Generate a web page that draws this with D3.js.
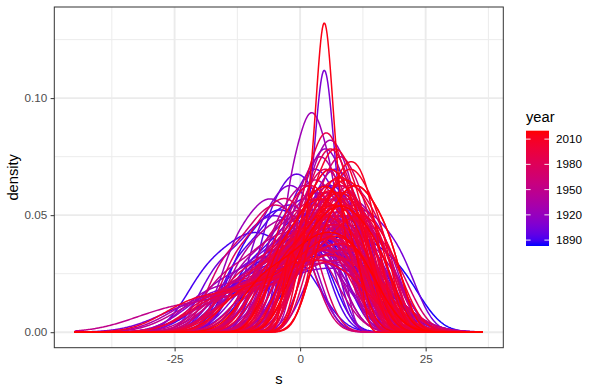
<!DOCTYPE html>
<html>
<head>
<meta charset="utf-8">
<script src="https://cdn.jsdelivr.net/npm/d3@7"></script>
<style>
  body { margin: 0; background: #fff; }
  text { font-family: "Liberation Sans", Arial, Helvetica, sans-serif; }
</style>
</head>
<body>
<div id="chart"></div>
<script>
// one group of observations per year, density drawn like geom_density
const years = d3.range(1883, 2021);
const samples = [
  // 1883-1892
  [-8.2,-1.8,3,7.8,14.2], [-0.5,5.5,10,14.5,20.5], [-12,-5,-0.1,4.1,9], [-12.4,-7.6,-4,-0.4,4.4], [-12,-3,3.3,8.7,15],
  [-16,-5.5,1.5,6.4,11.3], [-4,2,6.2,9.8,14], [-19.4,-13.4,-9,-4.6,1.4], [-11,-5,-0.8,2.8,7], [-2,2,5,8,12],
  // 1893-1902
  [-16,-4,4,9.6,15.2], [-13,-7.5,-3.65,-0.35,3.5], [-2.1,3.1,7,10.9,16.1], [-13,-5,0.6,5.4,11], [-6.7,-2.3,1,4.3,8.7],
  [-7.1,-3.5,-0.7,2.1,5.7], [-4,2.5,7,11,15.5], [-14,-5,1,5.2,9.4], [-1,3,6,9,13], [-17,-11,-6.8,-3.2,1],
  // 1903-1912
  [-3.3,0.3,3,5.7,9.3], [-9,-1,4.6,9.4,15], [3.6,8.4,12,15.6,20.4], [-14,-7,-2.1,2.1,7], [-21,-7.5,1.5,7.8,14.1],
  [-4,0.5,3,4.2,4.8,5.4,6.6,9,13], [-10,-2.5,2.75,7.25,12.5], [-9,-5,-2,1,5], [-2,4,8.2,11.8,16], [-5.8,-0.2,4,8.2,13.8],
  // 1913-1922
  [-18,-7.5,-0.5,4.4,9.3], [0.7,4.3,7,9.7,13.3], [-11,-4.5,0.05,3.95,8.5], [0.6,5.4,9,12.6,17.4], [-17,-9,-3.4,1.4,7],
  [-0.6,2.6,5,7.4,10.6], [-6,0,4.2,7.8,12], [-12,-1.5,5.5,10.4,15.3], [-7.1,-1.9,2,5.9,11.1], [-2,3,6.5,9.5,13],
  // 1923-1932
  [-13.7,-9.3,-6,-2.7,1.7], [-14,-5,1.3,6.7,13], [-2.4,0.3,2.3,4.3,7], [-7,0,4.9,9.1,14], [2.3,6.7,10,13.3,17.7],
  [-18.5,-8.75,-2.25,2.3,6.85], [-5,0,3.5,6.5,10], [-5.4,-0.6,3,6.6,11.4], [-2,4.5,9,13,17.5], [0.7,3.7,6,8.3,11.3],
  // 1933-1942
  [-12,-6,-1.8,1.8,6], [-1.8,3.8,8,12.2,17.8], [-20,-8,0,5.6,11.2], [-7,-2,1.5,4.5,8], [-1.7,2.7,6,9.3,13.7],
  [-5,2,6.9,11.1,16], [-12.1,-6.9,-3,0.9,6.1], [-12,-3.5,2.45,7.55,13.5], [-1.9,1.5,4,6.5,9.9], [-11,-2,4,8.2,12.4],
  // 1943-1952
  [-13,-5.5,-0.25,4.25,9.5], [1,5,8,11,15], [-7,-0.5,4.05,7.95,12.5], [-6,-2,1,4,8], [-19,-7,1,6.6,12.2],
  [-1,4.5,8.35,11.65,15.5], [-5.1,0.1,4,7.9,13.1], [-29,-22,-15,-9,-4,0,3,5,7,9,11], [-3,2,5.5,8.5,12], [-3.7,0.1,3,5.9,9.7],
  // 1953-1962
  [-16,-9,-4.1,0.1,5], [0.6,5.4,9,12.6,17.4], [-15,-4.5,2.5,7.4,12.3], [-8,-2,2.2,5.8,10], [-0.3,3.3,6,8.7,12.3],
  [-8,0,5.6,10.4,16], [-8.4,-3.6,0,3.6,8.4], [-1,5,9.2,12.8,17], [-4.1,1.1,5,8.9,14.1], [-15,-6,0,4.2,8.4],
  // 1963-1972
  [-5,0.5,4.35,7.65,11.5], [2.1,5.5,8,10.5,13.9], [-14,-6,-0.4,4.4,10], [0.9,6.1,10,13.9,19.1], [-8,-1.5,3.05,6.95,11.5],
  [-15.7,-10.2,-6.35,-3.05,0.8], [-0.7,3.7,7,10.3,14.7], [-16,-4,4,9.6,15.2], [-8,-2.5,1.35,4.65,8.5], [-1.3,2.3,5,7.7,11.3],
  // 1973-1982
  [-3,3,7.2,10.8,15], [-7.8,-2.2,2,6.2,11.8], [-9,-1.5,3.75,8.25,13.5], [-13.4,-8.2,-4.6,-1.4,2.2], [1,5,8,11,15],
  [-13,-4,2,6.2,10.4], [-9,-2.5,2.05,5.95,10.5], [3,7,10,13,17], [-5,1,5.2,8.8,13], [-4.7,-0.3,3,6.3,10.7],
  // 1983-1992
  [-12,-1.5,5.5,10.4,15.3], [-13,-6,-1.1,3.1,8], [0.4,3.6,6,8.4,11.6], [-3,2.5,6.35,9.65,13.5], [-6.5,-0.5,4,8.5,14.5],
  [0,5.5,9.35,12.65,16.5], [-17,-6.5,0.5,5.4,10.3], [0,3,5.2,7.4,10.4], [-4,1,4.5,7.5,11], [1.3,5.7,9,12.3,16.7],
  // 1993-2002
  [-11,-4,0.9,5.1,10], [0.3,4.1,7,9.9,13.7], [-16.5,-5.25,2.25,7.5,12.75], [-1,4,7.5,10.5,14], [-5,-1,2,5,9],
  [-6,0.5,5.05,8.95,13.5], [4,8,11,14,18], [-7,-1,3.2,6.8,11], [-11.5,-1.75,4.75,9.3,13.85], [-1.3,2.9,6,9.1,13.3],
  // 2003-2012
  [-21,-9,-1,4.6,10.2], [-2,3.5,7.35,10.65,14.5], [1.4,4.6,7,9.4,12.6], [0,6,10.2,13.8,18], [-3.7,0.7,4,7.3,11.7],
  [-1,3.5,6.65,9.35,12.5], [3.7,7.3,10,12.7,16.3], [2.1,6.2,9.07,11.53,14.4], [-0.3,3.3,6,8.7,12.3], [-2,3,6.5,9.5,13],
  // 2013-2020
  [-11,-2,4,8.2,12.4], [2.3,6.1,9,11.9,15.7], [-2,1.5,3.25,4.3,4.8,5.3,6.35,8,11], [-4,1.5,5.35,8.65,12.5], [4,8,11,14,18],
  [-4.6,0.2,3.56,6.44,9.8], [-0.1,4.5,8,11.5,16.1], [-8,-1,3.9,8.1,13]
];

const sRange = [-44.9, 36.4];      // extent of s over all years
const densityMax = 0.1323;          // top of the tallest curve
const xTicks = [-25, 0, 25];
const xMinor = [-37.5, -12.5, 12.5, 37.5];
const yTicks = [0, 0.05, 0.10];
const yMinor = [0.025, 0.075, 0.125];
const legendBreaks = [1890, 1920, 1950, 1980, 2010];

const W = 597, H = 391;
const panel = {left: 54.3, right: 503.3, top: 7, bottom: 347.7};

const svg = d3.select("#chart").append("svg")
    .attr("width", W).attr("height", H)
    .style("display", "block");
svg.append("rect").attr("width", W).attr("height", H).attr("fill", "#fff");

const span = sRange[1] - sRange[0];
const x = d3.scaleLinear()
    .domain([sRange[0] - 0.05 * span, sRange[1] + 0.05 * span])
    .range([panel.left, panel.right]);
const y = d3.scaleLinear()
    .domain([-0.05 * densityMax, 1.05 * densityMax])
    .range([panel.bottom, panel.top]);
const color = d3.scaleLinear()
    .domain(d3.extent(years))
    .range(["blue", "red"])
    .interpolate(d3.interpolateLab);

// bandwidth like R's bw.nrd0
function bwNrd0(v) {
    const sorted = v.slice().sort(d3.ascending);
    const iqr = d3.quantileSorted(sorted, 0.75) - d3.quantileSorted(sorted, 0.25);
    let lo = Math.min(d3.deviation(v), iqr / 1.34);
    if (!(lo > 0)) lo = d3.deviation(v) || 1;
    return 0.9 * lo * Math.pow(v.length, -0.2);
}

const grid = d3.range(512).map(i => sRange[0] + i * span / 511);
function kde(v) {
    const h = bwNrd0(v);
    const k = 1 / (v.length * h * Math.sqrt(2 * Math.PI));
    return grid.map(g => [g, k * d3.sum(v, d => Math.exp(-0.5 * ((g - d) / h) ** 2))]);
}

// grid lines
const gridG = svg.append("g");
gridG.selectAll(".xmin").data(xMinor.filter(d => x(d) > panel.left && x(d) < panel.right)).enter()
    .append("line").attr("x1", d => x(d)).attr("x2", d => x(d))
    .attr("y1", panel.top).attr("y2", panel.bottom)
    .attr("stroke", "#EBEBEB").attr("stroke-width", 0.95);
gridG.selectAll(".ymin").data(yMinor).enter()
    .append("line").attr("x1", panel.left).attr("x2", panel.right)
    .attr("y1", d => y(d)).attr("y2", d => y(d))
    .attr("stroke", "#EBEBEB").attr("stroke-width", 0.95);
gridG.selectAll(".xmaj").data(xTicks).enter()
    .append("line").attr("x1", d => x(d)).attr("x2", d => x(d))
    .attr("y1", panel.top).attr("y2", panel.bottom)
    .attr("stroke", "#EBEBEB").attr("stroke-width", 1.9);
gridG.selectAll(".ymaj").data(yTicks).enter()
    .append("line").attr("x1", panel.left).attr("x2", panel.right)
    .attr("y1", d => y(d)).attr("y2", d => y(d))
    .attr("stroke", "#EBEBEB").attr("stroke-width", 1.9);

// density curves, earliest year first
const line = d3.line().x(d => x(d[0])).y(d => y(d[1]));
const curveG = svg.append("g")
    .attr("clip-path", "url(#clip)");
svg.append("clipPath").attr("id", "clip").append("rect")
    .attr("x", panel.left).attr("y", panel.top)
    .attr("width", panel.right - panel.left).attr("height", panel.bottom - panel.top);
years.forEach((yr, i) => {
    curveG.append("path")
        .attr("d", line(kde(samples[i])))
        .attr("fill", "none")
        .attr("stroke", color(yr))
        .attr("stroke-width", 1.5)
        .attr("stroke-linejoin", "round");
});

// panel border
svg.append("rect")
    .attr("x", panel.left).attr("y", panel.top)
    .attr("width", panel.right - panel.left).attr("height", panel.bottom - panel.top)
    .attr("fill", "none").attr("stroke", "#333333").attr("stroke-width", 1);

// axes
const xAxis = svg.append("g")
    .attr("transform", "translate(0," + panel.bottom + ")")
    .call(d3.axisBottom(x).tickValues(xTicks).tickFormat(d3.format("d")).tickSize(3.7).tickPadding(3.2));
const yAxis = svg.append("g")
    .attr("transform", "translate(" + panel.left + ",0)")
    .call(d3.axisLeft(y).tickValues(yTicks).tickFormat(d3.format(".2f")).tickSize(3.7).tickPadding(3.4));
[xAxis, yAxis].forEach(a => {
    a.select(".domain").remove();
    a.selectAll("line").attr("stroke", "#333333").attr("stroke-width", 1);
    a.selectAll("text").attr("fill", "#4D4D4D").style("font-size", "11.7px").style("font-family", null);
});
xAxis.selectAll("text").text(d => d < 0 ? "-" + Math.abs(d) : d);

svg.append("text")
    .attr("x", (panel.left + panel.right) / 2).attr("y", 384)
    .attr("text-anchor", "middle").attr("fill", "#000")
    .style("font-size", "14.7px").text("s");
svg.append("text")
    .attr("transform", "translate(18," + (panel.top + panel.bottom) / 2 + ") rotate(-90)")
    .attr("text-anchor", "middle").attr("fill", "#000")
    .style("font-size", "14.7px").text("density");

// colour bar legend
const bar = {x: 526, w: 23, top: 130.7, bottom: 246};
const ly = d3.scaleLinear().domain(d3.extent(years)).range([bar.bottom, bar.top]);
const grad = svg.append("defs").append("linearGradient")
    .attr("id", "yeargrad").attr("x1", 0).attr("y1", 1).attr("x2", 0).attr("y2", 0);
d3.range(0, 1.0001, 0.05).forEach(t => {
    grad.append("stop").attr("offset", t)
        .attr("stop-color", color(years[0] + t * (years[years.length - 1] - years[0])));
});
svg.append("text").attr("x", bar.x).attr("y", 122)
    .attr("fill", "#000").style("font-size", "14.7px").text("year");
svg.append("rect")
    .attr("x", bar.x).attr("y", bar.top)
    .attr("width", bar.w).attr("height", bar.bottom - bar.top)
    .attr("fill", "url(#yeargrad)");
const lg = svg.append("g");
legendBreaks.forEach(b => {
    lg.append("line").attr("x1", bar.x).attr("x2", bar.x + 4.6)
        .attr("y1", ly(b)).attr("y2", ly(b)).attr("stroke", "#fff").attr("stroke-width", 0.9);
    lg.append("line").attr("x1", bar.x + bar.w - 4.6).attr("x2", bar.x + bar.w)
        .attr("y1", ly(b)).attr("y2", ly(b)).attr("stroke", "#fff").attr("stroke-width", 0.9);
    lg.append("text").attr("x", 556).attr("y", ly(b)).attr("dy", "0.35em")
        .attr("fill", "#000").style("font-size", "11.7px").text(b);
});
</script>
</body>
</html>
